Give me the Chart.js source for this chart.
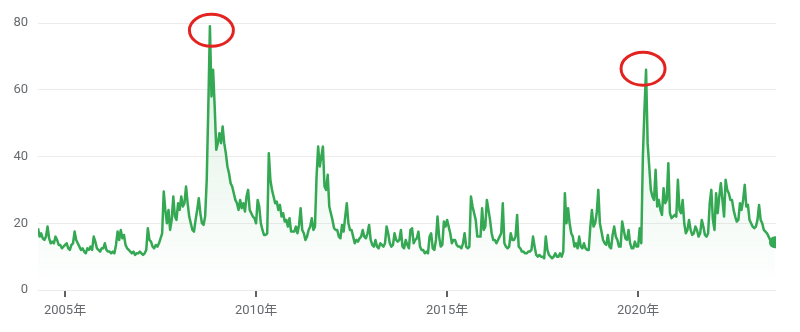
<!DOCTYPE html>
<html>
<head>
<meta charset="utf-8">
<script src="https://cdn.jsdelivr.net/npm/chart.js@4/dist/chart.umd.min.js"></script>
<style>
  html, body { margin: 0; padding: 0; background: #fff; }
  #wrap { width: 800px; height: 332px; }
</style>
</head>
<body>
<div id="wrap"><canvas id="chart" width="800" height="332"></canvas></div>
<script>
// half-monthly readings of the index, one array per year (2004 starts mid April, 2023 ends early August)
const vix2004 = [18.5, 16, 17, 15.5, 15, 16, 19, 15.5, 14, 14.5, 14, 16, 15, 13.5, 13.5, 12.5, 13]
const vix2005 = [13.5, 14, 12.5, 12, 13.5, 14, 17.5, 15, 14, 13, 12, 12.5, 11.5, 11, 12.5, 12, 13, 12, 16, 14.5, 12.5, 12, 11.5, 12.5]
const vix2006 = [12.5, 14, 12, 11.5, 11.5, 11, 11.5, 11, 13.5, 17.5, 15, 18, 15.5, 16.5, 13.5, 12.5, 12, 11.5, 11, 11.5, 10.5, 11, 11, 11.5]
const vix2007 = [11, 10.5, 11, 12, 18.5, 15, 14.5, 13, 12.5, 13.5, 13, 14, 15.5, 17, 29.5, 24, 20, 24, 18, 21, 28, 22, 21, 26]
const vix2008 = [24, 28, 25, 26, 31, 26, 22, 20, 18, 17.5, 21, 24, 27.5, 23, 20, 19.5, 22, 33, 55, 79, 58, 66, 55, 42]
const vix2009 = [44, 47, 44, 49, 44, 41, 37, 35, 32, 31, 29, 27, 26, 24, 27, 24.5, 26, 23.5, 28, 30, 24, 23, 22, 21.5]
const vix2010 = [20, 27, 25, 20, 18, 16.5, 16.5, 17, 41, 33, 30, 28, 26, 26.5, 24, 25.5, 22, 23, 20.5, 21, 19, 21.5, 17.5, 17.5]
const vix2011 = [17.5, 19, 17, 19.5, 24.5, 18, 17, 15, 16, 18, 19, 21.5, 18, 19, 34, 43, 37, 40, 43, 31, 30, 34.5, 25, 23]
const vix2012 = [21, 18.5, 18, 18, 16, 15.5, 19.5, 17.5, 22, 26, 20, 18, 18, 16, 14, 15, 14.5, 15.5, 16, 18, 16, 15.5, 17, 19.5]
const vix2013 = [15, 13.5, 13, 15, 13, 12.5, 14, 13.5, 13, 14, 19, 17, 14, 13, 13.5, 17, 15, 14.5, 15, 18, 13, 12.5, 15, 13.5]
const vix2014 = [12.5, 18, 18.5, 14, 15, 15.5, 17.5, 13, 12, 12, 11, 11.5, 11, 16, 17, 12.5, 12, 15, 22, 16, 13, 13.5, 20.5, 19]
const vix2015 = [21, 19, 17, 14, 15, 15, 13.5, 13, 13, 12.5, 14, 17, 13, 12.5, 13, 28, 25, 23, 21, 16, 16, 16, 24.5, 18]
const vix2016 = [19, 27, 24, 21, 17, 15, 15, 14, 15, 16, 17, 26, 14, 13, 12.5, 13, 17, 15, 15, 16, 22.5, 13, 12.5, 11.5]
const vix2017 = [11.5, 11, 11, 11.5, 11.5, 12, 16, 13, 10.5, 10, 10.5, 10, 10, 9.5, 16, 12, 10.5, 10, 9.5, 10, 11, 10, 10, 11]
const vix2018 = [10, 11.5, 29, 20, 24.5, 20, 17, 16, 13, 14, 12.5, 16, 13, 12.5, 14, 12.5, 12, 12, 19, 24, 19, 20, 23, 30]
const vix2019 = [20, 17.5, 15, 14, 13.5, 16.5, 13, 12.5, 16.5, 19, 16, 15, 13, 13, 20.5, 18, 15.5, 15, 18, 14, 12.5, 12.5, 14.5, 13]
const vix2020 = [13, 18.5, 14, 40, 54, 66, 44, 37, 30, 28, 27, 36, 25, 27, 24, 22.5, 30.5, 26, 27, 38, 23, 21.5, 22, 22.5]
const vix2021 = [22, 33, 24, 23, 27, 20, 17, 18, 21, 18, 16.5, 17, 19, 18, 16, 17, 21, 19, 16.5, 16, 17, 26, 30, 21]
const vix2022 = [18, 29, 23, 28, 32, 27, 22, 33, 30, 29, 27, 27, 24, 22, 20.5, 21, 26, 24, 27, 31.5, 25, 25.5, 21, 20]
const vix2023 = [19, 18.5, 19, 21, 25.5, 21, 20, 18, 17.5, 17, 16, 15, 15, 14.5, 14.3]

const yearTicks = [2005, 2010, 2015, 2020]
const valueTicks = [0, 20, 40, 60, 80]
const circledYears = [2008, 2020]

// [year, first half-month index, readings]
let years = [
  [2004, 7, vix2004], [2005, 0, vix2005], [2006, 0, vix2006], [2007, 0, vix2007],
  [2008, 0, vix2008], [2009, 0, vix2009], [2010, 0, vix2010], [2011, 0, vix2011],
  [2012, 0, vix2012], [2013, 0, vix2013], [2014, 0, vix2014], [2015, 0, vix2015],
  [2016, 0, vix2016], [2017, 0, vix2017], [2018, 0, vix2018], [2019, 0, vix2019],
  [2020, 0, vix2020], [2021, 0, vix2021], [2022, 0, vix2022], [2023, 0, vix2023],
]
let points = []
years.forEach(([yr, start, vals]) => {
  vals.forEach((v, i) => points.push({ x: yr + (start + i) / 24, y: v }))
})

let green = '#34a853'
let labelColor = '#666a6e'
let fontFamily = "Roboto, 'Noto Sans CJK JP', sans-serif"

// red rings round the two spikes
let ringPlugin = {
  id: 'rings',
  afterDatasetsDraw(chart) {
    let xs = chart.scales.x, ys = chart.scales.y, c = chart.ctx
    let shape = {
      2008: { dx: 1.5, dy: 4, rx: 22, ry: 16 },
      2020: { dx: -3, dy: -1, rx: 22, ry: 16.5 },
    }
    circledYears.forEach(yr => {
      let peak = points
        .filter(p => Math.floor(p.x) === yr)
        .reduce((a, b) => (b.y > a.y ? b : a))
      let s = shape[yr]
      c.save()
      c.beginPath()
      c.ellipse(xs.getPixelForValue(peak.x) + s.dx, ys.getPixelForValue(peak.y) + s.dy, s.rx, s.ry, 0, 0, Math.PI * 2)
      c.strokeStyle = '#e2231f'
      c.lineWidth = 3
      c.stroke()
      c.restore()
    })
  },
}

new Chart(document.getElementById('chart'), {
  type: 'line',
  data: {
    datasets: [
      {
        data: points,
        borderColor: green,
        borderWidth: 2.5,
        borderJoinStyle: 'round',
        tension: 0,
        fill: 'origin',
        backgroundColor: function(ctx) {
          let area = ctx.chart.chartArea
          if (!area) return 'transparent'
          let g = ctx.chart.ctx.createLinearGradient(0, area.top, 0, area.bottom)
          g.addColorStop(0, 'rgba(52,168,83,0.18)')
          g.addColorStop(1, 'rgba(52,168,83,0)')
          return g
        },
        pointRadius: ctx => (ctx.dataIndex === points.length - 1 ? 6 : 0),
        pointBackgroundColor: green,
        pointBorderWidth: 0,
        pointHoverRadius: 0,
      },
    ],
  },
  options: {
    responsive: false,
    animation: false,
    devicePixelRatio: 1,
    layout: { padding: { top: 23, right: 24, bottom: 0, left: 0 } },
    plugins: { legend: { display: false }, tooltip: { enabled: false } },
    scales: {
      x: {
        type: 'linear',
        min: points[0].x,
        max: 2023.61,
        afterBuildTicks: s => { s.ticks = yearTicks.map(v => ({ value: v })) },
        afterFit: s => { s.height = 42 },
        grid: { drawOnChartArea: false, drawTicks: true, tickLength: 7, color: '#5f6368', lineWidth: 2 },
        border: { display: false },
        ticks: {
          autoSkip: false,
          maxRotation: 0,
          padding: 6,
          color: labelColor,
          font: { size: 13, family: fontFamily },
          callback: v => v + '年',
        },
      },
      y: {
        min: valueTicks[0],
        max: valueTicks[valueTicks.length - 1],
        afterBuildTicks: s => { s.ticks = valueTicks.map(v => ({ value: v })) },
        afterFit: s => { s.width = 38 },
        grid: { drawTicks: false, color: '#ececec', lineWidth: 1 },
        border: { display: false },
        ticks: {
          padding: 10,
          color: labelColor,
          font: { size: 13, family: fontFamily },
        },
      },
    },
  },
  plugins: [ringPlugin],
})
</script>
</body>
</html>
